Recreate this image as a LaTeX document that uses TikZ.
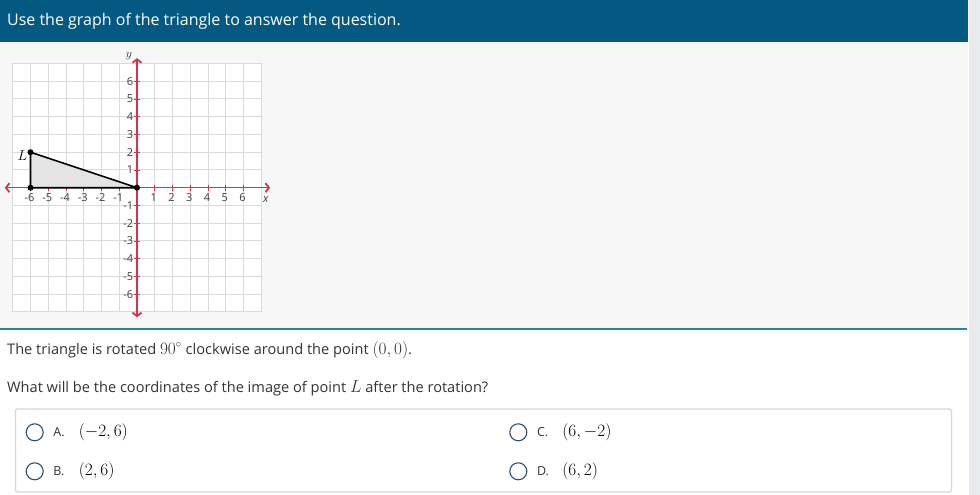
\documentclass[tikz,border=0pt]{standalone}
\usepackage{fontspec}
\setmainfont{Open Sans}
\usetikzlibrary{arrows.meta,positioning}

\definecolor{headblue}{RGB}{4,89,130}
\definecolor{pagegray}{RGB}{247,247,247}
\definecolor{scrollgray}{RGB}{233,234,238}
\definecolor{rulecol}{RGB}{38,134,166}
\definecolor{axisred}{RGB}{214,50,72}
\definecolor{gridgray}{RGB}{218,218,218}
\definecolor{labelgray}{RGB}{60,60,60}
\definecolor{textgray}{RGB}{51,51,51}
\definecolor{trifill}{RGB}{228,228,228}
\definecolor{boxgray}{RGB}{214,214,214}
\definecolor{circleblue}{RGB}{48,78,108}

\tikzset{
  gridline/.style={draw=gridgray, line width=1pt},
  axisline/.style={draw=axisred, line width=1.4pt,
    {Straight Barb[length=3.5pt,width=9pt,line width=1.8pt]}-{Straight Barb[length=3.5pt,width=9pt,line width=1.8pt]}},
  tickmark/.style={draw=axisred, line width=0.9pt},
  ticklabel/.style={font=\fontsize{11}{12}\selectfont, text=labelgray, inner sep=0pt},
  vertex/.style={circle, fill=black, inner sep=0pt, minimum size=6pt},
  prompt/.style={font=\fontsize{14.6}{18}\selectfont, text=textgray, inner sep=0pt, anchor=base west},
  choice/.style={circle, draw=circleblue, line width=1.1pt, minimum size=17pt, inner sep=0pt},
  optletter/.style={font=\fontsize{12.5}{14}\selectfont, text=textgray, inner sep=0pt},
  optmath/.style={font=\fontsize{16}{18}\selectfont, text=black, inner sep=0pt}
}

\begin{document}
\begin{tikzpicture}[x=1pt, y=-1pt]
  \useasboundingbox (0,0) rectangle (980,495);

  % Page
  \fill[white] (0,0) rectangle (980,495);
  \fill[pagegray] (0,42) rectangle (968,328);
  \fill[scrollgray] (969,0) rectangle (980,495);

  % Header
  \fill[headblue] (0,0) rectangle (968,42);
  \node[font=\fontsize{16}{18}\selectfont, text=white, inner sep=0pt, anchor=base west]
    (title) at (7,26) {Use the graph of the triangle to answer the question.};

  % Graph
  \begin{scope}[shift={(137,187.7)}, x=17.75pt, y=17.75pt]
    \fill[white] (-7,-7) rectangle (7,7);
    \foreach \g in {-7,...,7} {
      \draw[gridline] (\g,-7) -- (\g,7);
      \draw[gridline] (-7,\g) -- (7,\g);
    }

    % Axes
    \coordinate (xlo) at (-7.45,0);
    \coordinate (xhi) at (7.5,0);
    \coordinate (ylo) at (0,-7.3);
    \coordinate (yhi) at (0,7.3);
    \draw[axisline] (xlo) -- (xhi);
    \draw[axisline] (ylo) -- (yhi);
    \node[font=\fontsize{11}{12}\selectfont\itshape, text=labelgray] (xname) at (7.25,-0.65) {x};
    \node[font=\fontsize{13}{13}\selectfont, text=textgray] (yname) at (-0.45,7.4) {$y$};

    % Ticks and labels
    \foreach \i in {-6,...,-1,1,2,...,6} {
      \draw[tickmark] (\i,-0.17) -- (\i,0.17);
      \draw[tickmark] (-0.17,\i) -- (0.17,\i);
      \node[ticklabel] (xt\i) at (\i-0.05,-0.58) {\i};
      \node[ticklabel, anchor=east] (yt\i) at (-0.2,\i) {\i};
    }

    % Triangle
    \coordinate (L) at (-6,2);
    \coordinate (M) at (-6,0);
    \coordinate (O) at (0,0);
    \filldraw[fill=trifill, draw=black, line width=1.6pt, line join=round] (L) -- (M) -- (O) -- cycle;
    \foreach \p in {L,M,O} \node[vertex] at (\p) {};
    \node[font=\fontsize{15}{15}\selectfont, inner sep=0pt, anchor=east] (Lname) at ([xshift=-3pt,yshift=-3pt]L) {$L$};
  \end{scope}

  % Divider
  \draw[rulecol, line width=2.2pt] (0,328.8) -- (967,328.8);

  % Question
  \node[prompt] (q1) at (7,354) {The triangle is rotated {\fontsize{16}{18}\selectfont$90^\circ$} clockwise around the point {\fontsize{16}{18}\selectfont$(0,0)$}.};
  \node[prompt] (q2) at (7,392) {What will be the coordinates of the image of point {\fontsize{16}{18}\selectfont$L$} after the rotation?};

  % Answer box
  \draw[boxgray, line width=1.2pt, fill=white, rounded corners=1.5pt] (15.5,409) rectangle (951.5,492);

  % Choices
  \node[choice] (ca) at (34.7,432.3) {};
  \node[choice] (cb) at (34.7,471.3) {};
  \node[choice] (cc) at (518.3,432.3) {};
  \node[choice] (cd) at (518.3,471.3) {};
  \node[optletter, right=9.5pt of ca] (la) {A.};
  \node[optletter, right=9.5pt of cb] (lb) {B.};
  \node[optletter, right=9.5pt of cc] (lc) {C.};
  \node[optletter, right=9.5pt of cd] (ld) {D.};
  \node[optmath, right=34.8pt of ca] (ma) {$(-2,6)$};
  \node[optmath, right=34.8pt of cb] (mb) {$(2,6)$};
  \node[optmath, right=34.8pt of cc] (mc) {$(6,-2)$};
  \node[optmath, right=34.8pt of cd] (md) {$(6,2)$};
\end{tikzpicture}
\end{document}
